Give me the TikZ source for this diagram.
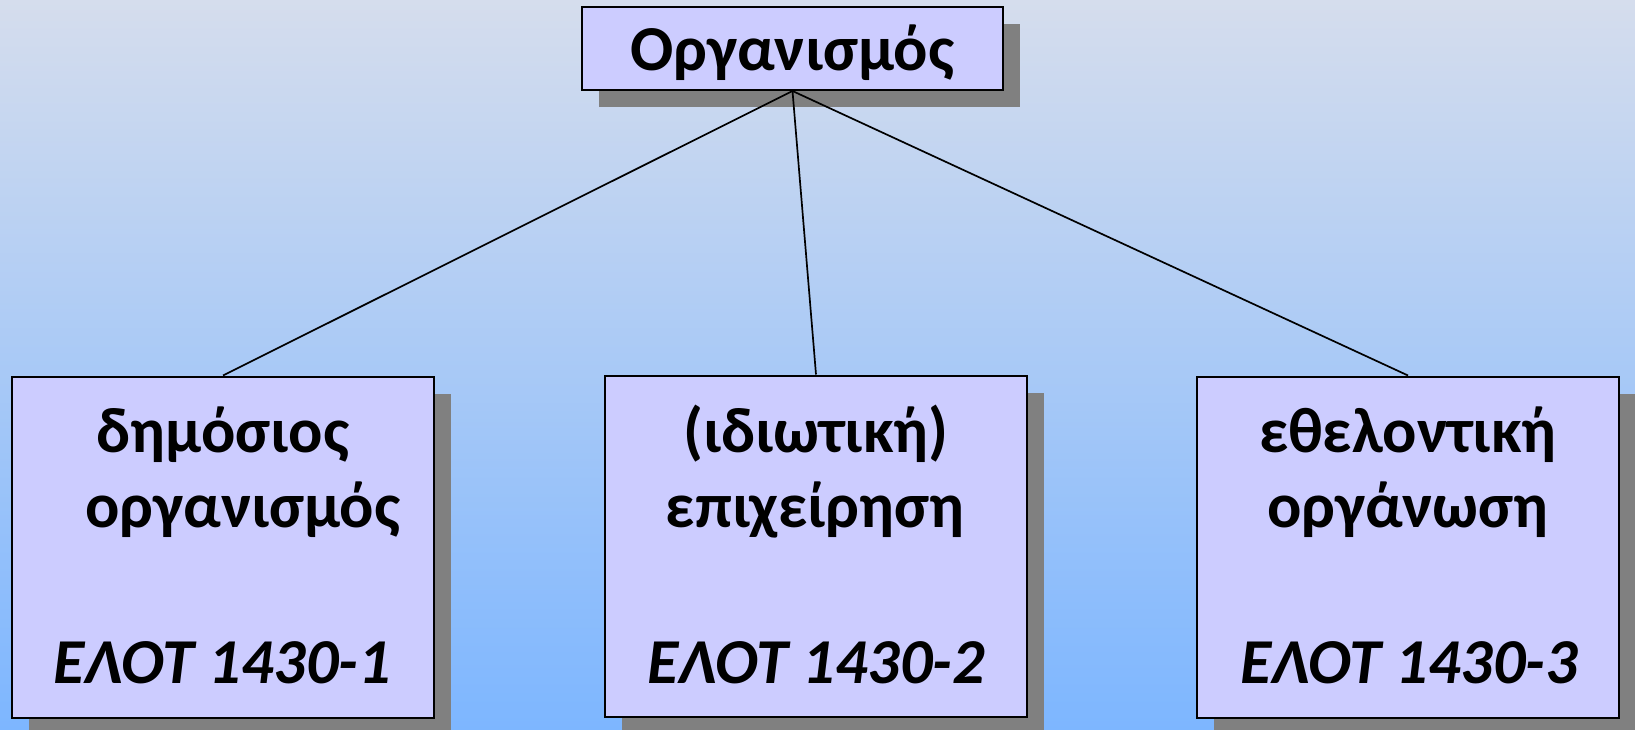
\documentclass[tikz,border=0pt]{standalone}
\usepackage{fontspec}
\setmainfont{Carlito}
\usetikzlibrary{shadows}

\definecolor{bgtop}{HTML}{D5DDED}
\definecolor{bgbot}{HTML}{7DB6FF}
\definecolor{boxfill}{HTML}{CCCCFF}
\definecolor{shadowgray}{HTML}{808080}

\begin{document}
\begin{tikzpicture}[
    x=1pt, y=-1pt,
    box/.style={
      rectangle, draw, line width=2pt, fill=boxfill, inner sep=0pt,
      drop shadow={shadow xshift=17pt, shadow yshift=-17pt,
        fill=shadowgray, opacity=1}
    },
    unit/.style={
      box, minimum width=422pt, minimum height=341pt
    },
    txt/.style={
      anchor=base, inner sep=0pt,
      font=\fontsize{64}{76}\selectfont\bfseries
    },
    code/.style={
      txt, font=\fontsize{64}{76}\selectfont\bfseries\itshape
    },
    link/.style={line width=1.7pt}
    ]
  \useasboundingbox (0,0) rectangle (1635,730);
  \fill[top color=bgtop, bottom color=bgbot] (0,0) rectangle (1635,730);

  % boxes
  \node[box, minimum width=421pt, minimum height=83pt] (org) at (792.5,48.5) {};
  \node[unit] (pub) at (223,547) {};
  \node[unit] (priv) at (816,546) {};
  \node[unit] (vol) at (1408,547) {};

  % texts
  \node[txt] (org1) at (792.5,71) {Οργανισμός};

  \node[txt] (pub1) at (223,452) {δημόσιος};
  \node[txt] (pub2) at (243,527) {οργανισμός};
  \node[code] (pub3) at (222,683) {ΕΛΟΤ 1430-1};

  \node[txt] (priv1) at (816,452) {(ιδιωτική)};
  \node[txt] (priv2) at (815,527) {επιχείρηση};
  \node[code] (priv3) at (816,683) {ΕΛΟΤ 1430-2};

  \node[txt] (vol1) at (1408,452) {εθελοντική};
  \node[txt] (vol2) at (1408,527) {οργάνωση};
  \node[code] (vol3) at (1409,683) {ΕΛΟΤ 1430-3};

  % connectors
  \draw[link] (org.south) -- (pub.north);
  \draw[link] (org.south) -- (priv.north);
  \draw[link] (org.south) -- (vol.north);
\end{tikzpicture}
\end{document}
